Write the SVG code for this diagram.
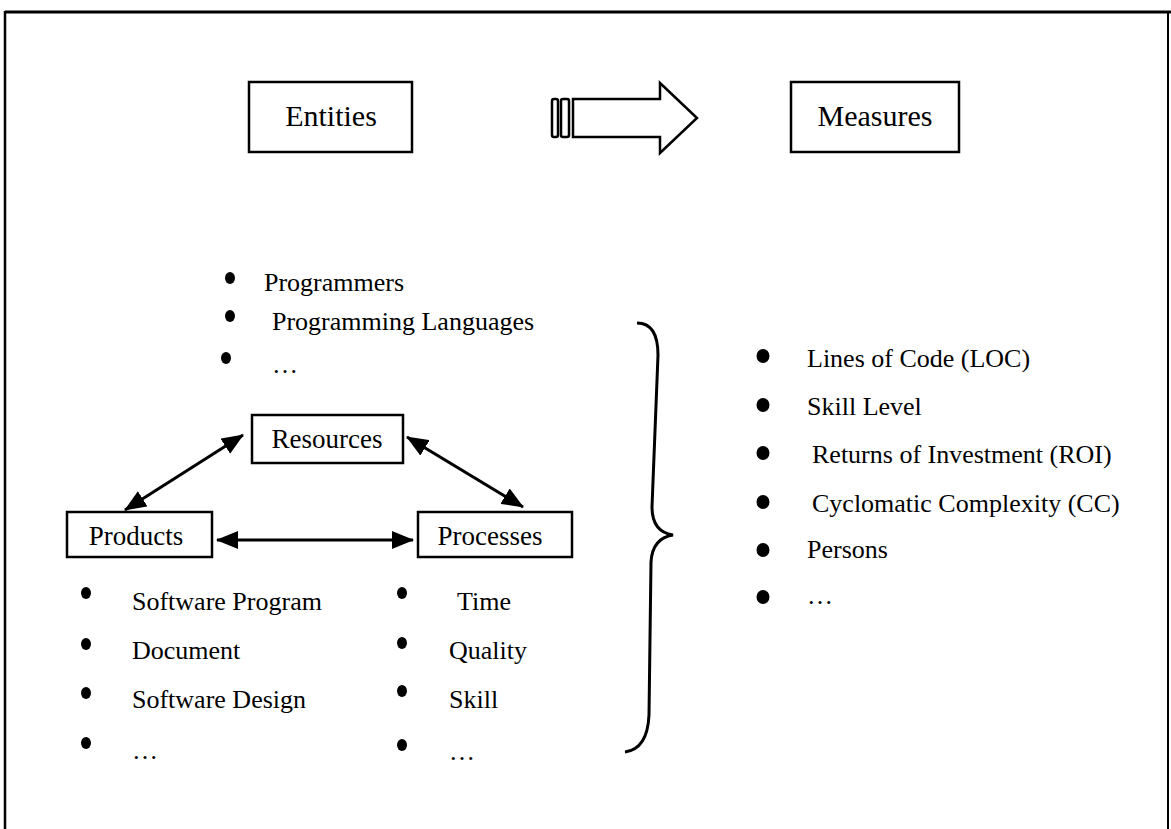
<svg xmlns="http://www.w3.org/2000/svg" width="1171" height="829" viewBox="0 0 1171 829">
<style>
text{font-family:"Liberation Serif","Times New Roman",serif;fill:#000}
.box{fill:#fff;stroke:#000;stroke-width:2.5}
.t{font-size:26px}
.h{font-size:30px;text-anchor:middle}
.n{font-size:27px;text-anchor:middle}
.conn{stroke:#000;stroke-width:3;fill:none}
</style>
<defs>
<marker id="ah" viewBox="0 0 22 18" markerWidth="22" markerHeight="18" refX="21" refY="9" orient="auto-start-reverse" markerUnits="userSpaceOnUse">
<path d="M0,0 L22,9 L0,18 Z" fill="#000"/>
</marker>
</defs>
<rect width="1171" height="829" fill="#fff"/>
<g id="frame" stroke="#000" fill="none">
<line x1="5" y1="12" x2="1171" y2="12" stroke-width="3"/>
<line x1="5" y1="11" x2="5" y2="829" stroke-width="2.5"/>
<line x1="1168" y1="12" x2="1168" y2="829" stroke-width="2"/>
</g>
<g id="entities"><rect class="box" x="249" y="82" width="163" height="70"/><text class="h" x="331" y="126">Entities</text></g>
<g id="big-arrow" stroke="#000" stroke-width="2.5" fill="#fff">
<rect x="552" y="99" width="6" height="38" rx="2"/>
<rect x="561" y="99" width="8" height="38" rx="2"/>
<path d="M573,99 L660,99 L660,83 L697,118 L660,153 L660,137 L573,137 Z" stroke-linejoin="miter"/>
</g>
<g id="measures"><rect class="box" x="791" y="82" width="168" height="70"/><text class="h" x="875" y="126">Measures</text></g>
<g id="resource-list">
<ellipse cx="230" cy="278" rx="5" ry="6"/><text class="t" x="264" y="291">Programmers</text>
<ellipse cx="230" cy="316" rx="5" ry="6"/><text class="t" x="272" y="330">Programming Languages</text>
<ellipse cx="226" cy="358" rx="5" ry="6"/><text class="t" x="272" y="373">…</text>
</g>
<g id="resources"><rect class="box" x="252" y="415" width="151" height="48"/><text class="n" x="327" y="448">Resources</text></g>
<g id="products"><rect class="box" x="67" y="512" width="145" height="45"/><text class="n" x="136" y="545">Products</text></g>
<g id="processes"><rect class="box" x="418" y="512" width="154" height="45"/><text class="n" x="490" y="545">Processes</text></g>
<g id="connectors">
<line class="conn" x1="243" y1="435" x2="125" y2="510" marker-start="url(#ah)" marker-end="url(#ah)"/>
<line class="conn" x1="407" y1="437" x2="523" y2="507" marker-start="url(#ah)" marker-end="url(#ah)"/>
<line class="conn" x1="217" y1="540" x2="413" y2="540" marker-start="url(#ah)" marker-end="url(#ah)"/>
</g>
<g id="product-list">
<ellipse cx="86" cy="593" rx="5" ry="6"/><text class="t" x="132" y="610">Software Program</text>
<ellipse cx="86" cy="644" rx="5" ry="6"/><text class="t" x="132" y="659">Document</text>
<ellipse cx="86" cy="693" rx="5" ry="6"/><text class="t" x="132" y="708">Software Design</text>
<ellipse cx="86" cy="743" rx="5" ry="6"/><text class="t" x="132" y="759">…</text>
</g>
<g id="process-list">
<ellipse cx="402" cy="593" rx="5" ry="6"/><text class="t" x="457" y="610">Time</text>
<ellipse cx="402" cy="643" rx="5" ry="6"/><text class="t" x="449" y="659">Quality</text>
<ellipse cx="402" cy="691" rx="5" ry="6"/><text class="t" x="449" y="708">Skill</text>
<ellipse cx="402" cy="745" rx="5" ry="6"/><text class="t" x="449" y="760">…</text>
</g>
<g id="brace">
<path class="conn" d="M637,323 C652,323 658,335 658,355 L652,507 C652,525 660,533 673,535 C660,537 652,545 651,562 L649,715 C648,738 640,750 625,752"/>
</g>
<g id="measure-list">
<ellipse cx="763" cy="356" rx="6.5" ry="7"/><text class="t" x="807" y="367">Lines of Code (LOC)</text>
<ellipse cx="763" cy="405" rx="6.5" ry="7"/><text class="t" x="807" y="415">Skill Level</text>
<ellipse cx="763" cy="453" rx="6.5" ry="7"/><text class="t" x="812" y="463">Returns of Investment (ROI)</text>
<ellipse cx="763" cy="502" rx="6.5" ry="7"/><text class="t" x="812" y="512">Cyclomatic Complexity (CC)</text>
<ellipse cx="763" cy="550" rx="6.5" ry="7"/><text class="t" x="807" y="558">Persons</text>
<ellipse cx="763" cy="597" rx="6.5" ry="7"/><text class="t" x="807" y="604">…</text>
</g>
</svg>
